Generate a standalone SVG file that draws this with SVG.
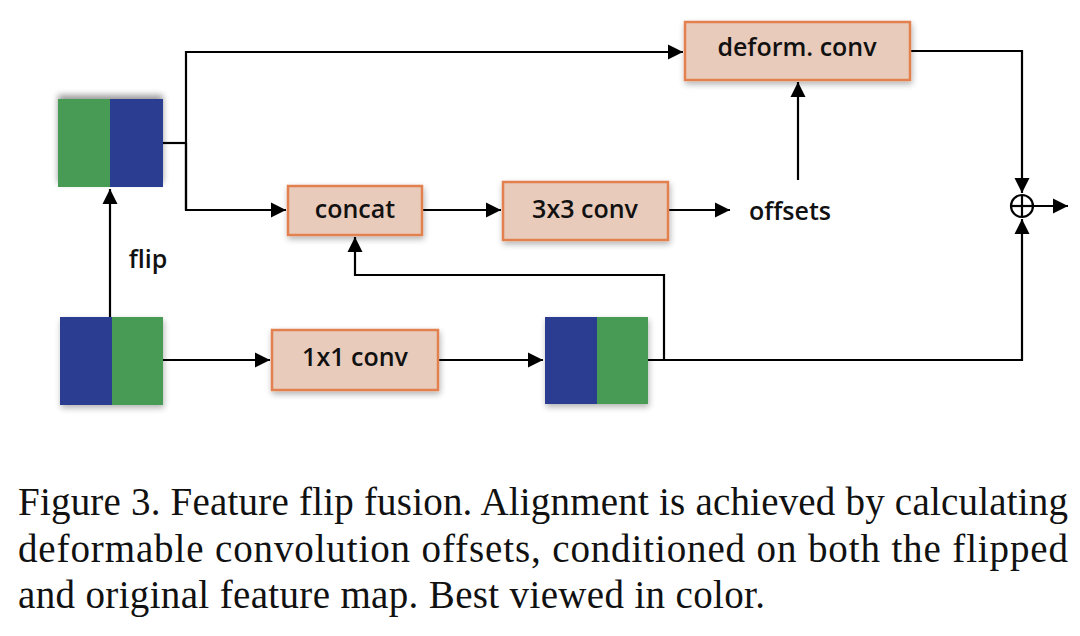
<svg xmlns="http://www.w3.org/2000/svg" width="1080" height="636" viewBox="0 0 1080 636">
<style>
.box{fill:#e9cbbb;stroke:#e2804f;stroke-width:2.5}
.lbl{font-family:"Open Sans","Noto Sans",sans-serif;font-weight:600;font-size:25px;fill:#111;text-anchor:middle}
.cap{font-family:"Liberation Serif","Times New Roman",serif;font-size:39px;fill:#111}
.ln{fill:none;stroke:#000;stroke-width:2.2}
.g{fill:#469b55}
.b{fill:#293e91}
</style>
<defs>
<marker id="ah" viewBox="0 0 10 10" refX="10" refY="5" markerWidth="7" markerHeight="7" orient="auto" markerUnits="strokeWidth">
<path d="M0,0 L10,5 L0,10 z" fill="#000"/>
</marker>
<filter id="sh" x="-20%" y="-20%" width="140%" height="150%">
<feGaussianBlur in="SourceAlpha" stdDeviation="3"/>
<feOffset dx="1" dy="3" result="o"/>
<feComponentTransfer><feFuncA type="linear" slope="0.3"/></feComponentTransfer>
<feMerge><feMergeNode/><feMergeNode in="SourceGraphic"/></feMerge>
</filter>
<filter id="shup" x="-20%" y="-20%" width="140%" height="150%">
<feGaussianBlur in="SourceAlpha" stdDeviation="3"/>
<feOffset dx="0" dy="-4" result="o"/>
<feComponentTransfer><feFuncA type="linear" slope="0.4"/></feComponentTransfer>
<feMerge><feMergeNode/><feMergeNode in="SourceGraphic"/></feMerge>
</filter>
</defs>
<rect width="1080" height="636" fill="#fff"/>

<g id="connectors">
<polyline class="ln" points="163,143 186,143"/>
<polyline class="ln" points="186,210 186,52 683,52" marker-end="url(#ah)"/>
<polyline class="ln" points="186,143 186,210 286,210" marker-end="url(#ah)"/>
<polyline class="ln" points="422,210 501,210" marker-end="url(#ah)"/>
<polyline class="ln" points="668,210 730,210" marker-end="url(#ah)"/>
<polyline class="ln" points="798,180 798,82" marker-end="url(#ah)"/>
<polyline class="ln" points="910,51 1022,51 1022,193" marker-end="url(#ah)"/>
<polyline class="ln" points="110,317 110,189" marker-end="url(#ah)"/>
<polyline class="ln" points="163,360 270,360" marker-end="url(#ah)"/>
<polyline class="ln" points="438,360 543,360" marker-end="url(#ah)"/>
<polyline class="ln" points="648,360 1022,360 1022,219" marker-end="url(#ah)"/>
<polyline class="ln" points="664,360 664,275 355,275 355,237" marker-end="url(#ah)"/>
<polyline class="ln" points="1033,206 1068,206" marker-end="url(#ah)"/>
</g>

<g id="fm-top" filter="url(#shup)">
<rect class="g" x="58" y="99" width="52" height="88"/>
<rect class="b" x="110" y="99" width="53" height="88"/>
</g>
<g id="fm-bottom" filter="url(#sh)">
<rect class="b" x="60" y="317" width="52" height="88"/>
<rect class="g" x="112" y="317" width="51" height="88"/>
</g>
<g id="fm-right" filter="url(#sh)">
<rect class="b" x="545" y="317" width="52" height="87"/>
<rect class="g" x="597" y="317" width="51" height="87"/>
</g>

<g id="deform">
<rect class="box" x="685" y="22" width="225" height="58" filter="url(#sh)"/>
<text class="lbl" x="797" y="56">deform. conv</text>
</g>
<g id="concat">
<rect class="box" x="288" y="186" width="134" height="49" filter="url(#sh)"/>
<text class="lbl" x="355" y="218">concat</text>
</g>
<g id="conv3">
<rect class="box" x="503" y="182" width="165" height="58" filter="url(#sh)"/>
<text class="lbl" x="585" y="218">3x3 conv</text>
</g>
<g id="conv1">
<rect class="box" x="272" y="330" width="166" height="60" filter="url(#sh)"/>
<text class="lbl" x="355" y="366">1x1 conv</text>
</g>
<g id="offsets">
<text class="lbl" x="790" y="220">offsets</text>
</g>
<g id="flip">
<text class="lbl" x="148" y="268">flip</text>
</g>
<g id="sum">
<circle cx="1022" cy="206" r="11" fill="#fff" stroke="#000" stroke-width="2.2"/>
<line class="ln" x1="1011" y1="206" x2="1033" y2="206"/>
<line class="ln" x1="1022" y1="195" x2="1022" y2="217"/>
</g>

<g id="caption">
<text class="cap" x="18" y="515" textLength="1050" lengthAdjust="spacing">Figure 3. Feature flip fusion. Alignment is achieved by calculating</text>
<text class="cap" x="18" y="562" textLength="1050" lengthAdjust="spacing">deformable convolution offsets, conditioned on both the flipped</text>
<text class="cap" x="18" y="608" textLength="747" lengthAdjust="spacing">and original feature map. Best viewed in color.</text>
</g>
</svg>
